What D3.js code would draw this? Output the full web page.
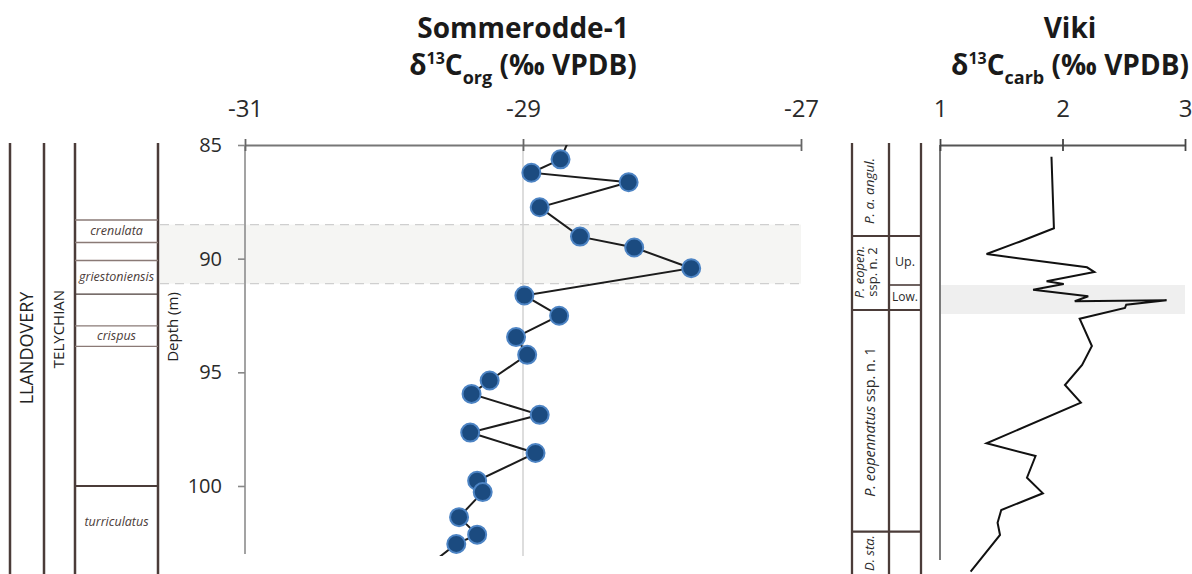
<!DOCTYPE html>
<meta charset="utf-8">
<style>
body { margin: 0; background: #fff; }
text { font-family: "Open Sans", sans-serif; }
</style>
<svg width="1192" height="574"></svg>
<script src="https://d3js.org/d3.v7.min.js"></script>
<script>

// Sommerodde-1, d13C org against depth (m)
var sommDepth = [84.5, 85.63, 86.22, 86.64, 87.74, 89.03, 89.51, 90.42, 91.62, 92.51, 93.45, 94.23,
                 95.36, 95.95, 96.87, 97.65, 98.55, 99.77, 100.27, 101.37, 102.14, 102.55, 103.5];
var sommD13C = [-28.65, -28.73, -28.94, -28.24, -28.88, -28.59, -28.20, -27.79, -28.99, -28.74, -29.05, -28.97,
                -29.24, -29.37, -28.88, -29.38, -28.91, -29.33, -29.29, -29.46, -29.33, -29.48, -29.68];
var sommTicks = [-31, -29, -27];
var depthTicks = [85, 90, 95, 100];
var sommBand = [88.5, 91.1];

// graptolite zones next to Sommerodde-1
var zoneBounds = [88.3, 89.29, 90.08, 91.56, 92.96, 93.86, 100];
var zoneNames = ["crenulata", "griestoniensis", "crispus", "turriculatus"];
var zoneNameDepth = [88.8, 90.8, 93.4, 101.6];

// Viki, d13C carb against position in the core log
var vikiLevel = [1.17, 8.33, 9.67, 10.9, 12.23, 12.7, 13.63, 13.9, 14.47, 15.13, 15.63, 15.53, 15.97, 16.3,
                 17.37, 20.1, 22.0, 24.0, 25.77, 29.83, 31.1, 33.27, 34.83, 36.5, 37.77, 39.0, 42.67];
var vikiD13C = [1.91, 1.93, 1.65, 1.38, 2.20, 2.26, 1.87, 2.01, 1.76, 2.21, 2.10, 2.85, 2.52, 2.51,
                2.14, 2.24, 2.16, 2.02, 2.15, 1.38, 1.78, 1.71, 1.84, 1.50, 1.47, 1.49, 1.25];
var vikiTicks = [1, 2, 3];
var vikiBand = [14.0, 16.9];
// conodont zones next to Viki
var vikiBounds = [9.1, 16.5, 38.67];
var vikiSubBound = 14.0;

var svg = d3.select("svg");
var brown = "#4b3c39";
var plain = function(d) { return String(d); };   // keep the hyphen, not the unicode minus

// ---------- scales ----------
var x = d3.scaleLinear().domain([-31, -27]).range([245, 801]);
var y = d3.scaleLinear().domain([85, 103.08]).range([145, 556]);
var vx = d3.scaleLinear().domain([1, 3]).range([940, 1185]);
var vy = d3.scaleLinear().domain([0, 43]).range([145, 575]);

// ---------- titles ----------
function title(cx, name, sub) {
  svg.append("text").attr("x", cx).attr("y", 38).attr("text-anchor", "middle")
    .attr("font-size", 28).attr("font-weight", "bold").attr("fill", "#1a1a1a").text(name);
  var t = svg.append("text").attr("x", cx).attr("y", 75).attr("text-anchor", "middle")
    .attr("font-size", 28).attr("font-weight", "bold").attr("fill", "#1a1a1a");
  t.append("tspan").text("δ");
  t.append("tspan").attr("font-size", 16).attr("dy", -11).text("13");
  t.append("tspan").attr("dy", 11).text("C");
  t.append("tspan").attr("font-size", 18).attr("dy", 9).text(sub);
  t.append("tspan").attr("dy", -9).text(" (‰ VPDB)");
}
title(523, "Sommerodde-1", "org");
title(1070, "Viki", "carb");

// ---------- Sommerodde band ----------
svg.append("rect")
  .attr("x", 160).attr("width", x(-27) - 160)
  .attr("y", y(sommBand[0])).attr("height", y(sommBand[1]) - y(sommBand[0]))
  .attr("fill", "#f5f5f3");
sommBand.forEach(function(d) {
  svg.append("line").attr("x1", 160).attr("x2", x(-27)).attr("y1", y(d)).attr("y2", y(d))
    .attr("stroke", "#cfcfcf").attr("stroke-width", 1.2).attr("stroke-dasharray", "9,6");
});

// ---------- left stratigraphy columns ----------
var colX = [10, 44, 75, 158];
colX.forEach(function(cx) {
  svg.append("line").attr("x1", cx).attr("x2", cx).attr("y1", 143).attr("y2", 574)
    .attr("stroke", brown).attr("stroke-width", 2.5);
});
svg.selectAll(".zb").data(zoneBounds).enter().append("line")
  .attr("x1", 75).attr("x2", 158)
  .attr("y1", function(d) { return y(d); }).attr("y2", function(d) { return y(d); })
  .attr("stroke", function(d) { return (d === 91.56 || d === 100) ? brown : "#8a7a76"; })
  .attr("stroke-width", function(d) { return d === 100 ? 2.2 : 1.3; });
svg.selectAll(".zn").data(zoneNames).enter().append("text")
  .attr("x", 116.5).attr("y", function(d, i) { return y(zoneNameDepth[i]) + 4; })
  .attr("text-anchor", "middle").attr("font-size", 12.5).attr("font-style", "italic")
  .attr("fill", brown).text(function(d) { return d; });

function vtext(cx, cy, size, str, fill) {
  return svg.append("text").attr("transform", "translate(" + cx + "," + cy + ") rotate(-90)")
    .attr("text-anchor", "middle").attr("font-size", size).attr("fill", fill || "#222").text(str);
}
vtext(33, 348, 18, "LLANDOVERY");
vtext(64, 329, 15, "TELYCHIAN");
vtext(178, 327, 15, "Depth (m)");

// ---------- Sommerodde axes ----------
svg.append("line").attr("x1", x(-29)).attr("x2", x(-29)).attr("y1", y(85)).attr("y2", 556)
  .attr("stroke", "#d2d2d2").attr("stroke-width", 1.5);
svg.append("line").attr("x1", x(-31)).attr("x2", x(-31)).attr("y1", y(85)).attr("y2", 554)
  .attr("stroke", "#8c8c8c").attr("stroke-width", 1.6);

var xAxis = svg.append("g").attr("transform", "translate(0," + y(85) + ")")
  .call(d3.axisTop(x).tickValues(sommTicks).tickFormat(plain).tickSizeInner(6).tickSizeOuter(0).tickPadding(22));
xAxis.select(".domain").attr("stroke", "#777").attr("stroke-width", 1.8);
xAxis.selectAll(".tick line").attr("stroke", "#666").attr("stroke-width", 1.8).attr("y1", 6).attr("y2", -6);
xAxis.selectAll(".tick text").attr("font-size", 24).attr("fill", "#2a2a2a").attr("font-family", "Open Sans");

var yAxis = svg.append("g").attr("transform", "translate(" + x(-31) + ",0)")
  .call(d3.axisLeft(y).tickValues(depthTicks).tickFormat(plain).tickSizeInner(7).tickSizeOuter(0).tickPadding(16));
yAxis.select(".domain").remove();
yAxis.selectAll(".tick line").attr("stroke", "#888").attr("stroke-width", 1.6);
yAxis.selectAll(".tick text").attr("font-size", 20).attr("fill", "#2a2a2a").attr("font-family", "Open Sans");

// ---------- Sommerodde data ----------
svg.append("clipPath").attr("id", "clipS").append("rect")
  .attr("x", x(-31)).attr("y", y(85)).attr("width", x(-27) - x(-31)).attr("height", 556 - y(85));

var sommPts = sommDepth.map(function(d, i) { return { depth: d, v: sommD13C[i] }; });
var line = d3.line().x(function(d) { return x(d.v); }).y(function(d) { return y(d.depth); });
svg.append("path").datum(sommPts).attr("clip-path", "url(#clipS)")
  .attr("d", line).attr("fill", "none").attr("stroke", "#1c1c1c").attr("stroke-width", 2);
svg.selectAll(".pt").data(sommPts.filter(function(d) { return d.depth >= 85 && d.depth <= 103; }))
  .enter().append("circle")
  .attr("cx", function(d) { return x(d.v); }).attr("cy", function(d) { return y(d.depth); })
  .attr("r", 9).attr("fill", "#1b4b80").attr("stroke", "#4d84c4").attr("stroke-width", 2);

// ---------- right stratigraphy columns ----------
[852, 889, 921].forEach(function(cx) {
  svg.append("line").attr("x1", cx).attr("x2", cx).attr("y1", 143).attr("y2", 574)
    .attr("stroke", brown).attr("stroke-width", 2.3);
});
vikiBounds.forEach(function(d) {
  svg.append("line").attr("x1", 852).attr("x2", 921).attr("y1", vy(d)).attr("y2", vy(d))
    .attr("stroke", brown).attr("stroke-width", 2.2);
});
svg.append("line").attr("x1", 889).attr("x2", 921).attr("y1", vy(vikiSubBound)).attr("y2", vy(vikiSubBound))
  .attr("stroke", brown).attr("stroke-width", 1.6);

function itext(cx, cy, size, parts, anchor) {
  var t = svg.append("text").attr("transform", "translate(" + cx + "," + cy + ") rotate(-90)")
    .attr("text-anchor", anchor || "middle").attr("font-size", size).attr("fill", "#2a2a2a");
  parts.forEach(function(p) {
    t.append("tspan").attr("font-style", p[1] ? "italic" : "normal").text(p[0]);
  });
}
itext(874, 191, 13.5, [["P. a. angul.", true]]);
itext(864, 272, 13, [["P. eopen.", true]]);
itext(877, 272, 13, [["ssp. n. 2", false]]);
itext(875, 422, 14.5, [["P. eopennatus", true], [" ssp. n. 1", false]]);
itext(874, 571, 13, [["D. sta.", true]], "start");
svg.append("text").attr("x", 905).attr("y", 266).attr("text-anchor", "middle")
  .attr("font-size", 12.5).attr("fill", "#2a2a2a").text("Up.");
svg.append("text").attr("x", 905).attr("y", 301).attr("text-anchor", "middle")
  .attr("font-size", 12).attr("fill", "#2a2a2a").text("Low.");

// ---------- Viki ----------
svg.append("rect").attr("x", vx(1)).attr("width", vx(3) - vx(1))
  .attr("y", vy(vikiBand[0])).attr("height", vy(vikiBand[1]) - vy(vikiBand[0]))
  .attr("fill", "#efefef");
svg.append("line").attr("x1", vx(1)).attr("x2", vx(1)).attr("y1", vy(0)).attr("y2", 560)
  .attr("stroke", "#7a7a7a").attr("stroke-width", 2);

var vAxis = svg.append("g").attr("transform", "translate(0," + vy(0) + ")")
  .call(d3.axisTop(vx).tickValues(vikiTicks).tickFormat(plain).tickSizeInner(6).tickSizeOuter(0).tickPadding(22));
vAxis.select(".domain").attr("stroke", "#555").attr("stroke-width", 1.8);
vAxis.selectAll(".tick line").attr("stroke", "#444").attr("stroke-width", 1.8).attr("y1", 6).attr("y2", -6);
vAxis.selectAll(".tick text").attr("font-size", 24).attr("fill", "#2a2a2a").attr("font-family", "Open Sans");

var vikiPts = vikiLevel.map(function(d, i) { return { depth: d, v: vikiD13C[i] }; });
svg.append("path").datum(vikiPts)
  .attr("d", d3.line().x(function(d) { return vx(d.v); }).y(function(d) { return vy(d.depth); }))
  .attr("fill", "none").attr("stroke", "#111").attr("stroke-width", 2);

</script>
